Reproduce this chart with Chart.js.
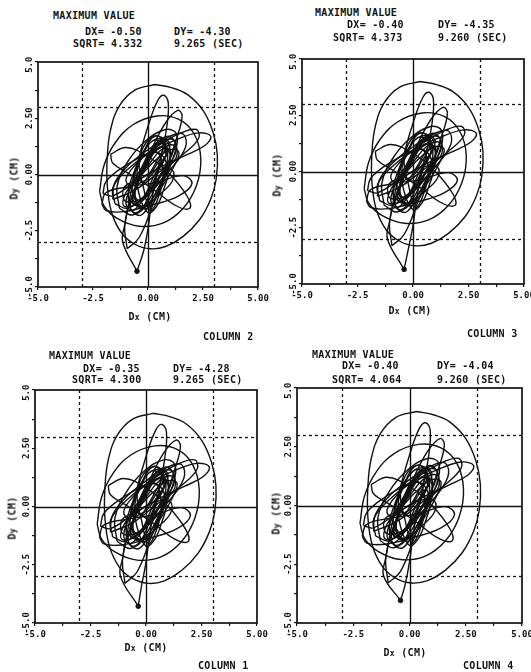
<!DOCTYPE html>
<html>
<head>
<meta charset="utf-8">
<script src="https://cdn.jsdelivr.net/npm/chart.js@4/dist/chart.umd.min.js"></script>
<style>
  html, body { margin:0; padding:0; background:#fff; }
  #page { position:relative; width:531px; height:672px; overflow:hidden; background:#fff; }
  canvas { position:absolute; }
  .t { position:absolute; font-family:"DejaVu Sans Mono", monospace; font-weight:bold; font-size:10px;
       line-height:12px; white-space:pre; color:#111; letter-spacing:0.3px; }
  .c { transform:translate(-50%,-50%); }
  .r { transform:translate(-50%,-50%) rotate(-90deg); }
  .sub { font-size:8px; }
</style>
</head>
<body>
<div id="page"></div>
<script>
// ---------------- DATA ----------------
const columnNames = ['COLUMN 2', 'COLUMN 3', 'COLUMN 1', 'COLUMN 4'];
const maxDx   = [-0.50, -0.40, -0.35, -0.40];
const maxDy   = [-4.30, -4.35, -4.28, -4.04];
const maxSqrt = [4.332, 4.373, 4.300, 4.064];
const maxTime = [9.265, 9.260, 9.265, 9.260];

const tickValues  = [-5, -2.5, 0, 2.5, 5];
const xTickLabels = ['-5.0', '-2.5', '0.00', '2.50', '5.00'];
const yTickLabels = ['-5.0', '-2.5', '0.00', '2.50', '5.00'];
const dashedGrid = [-3, 3];
const solidGrid  = [0];

// orbit loops (Dx, Dy in cm)
const outerEgg = [[0.32,4.0],[1.1,3.85],[1.8,3.55],[2.5,2.85],[2.95,1.9],[3.15,0.9],[3.1,-0.2],[2.85,-1.1],[2.35,-2.0],[1.6,-2.75],[0.8,-3.2],[0.1,-3.3],[-0.6,-3.1],[-1.2,-2.6],[-1.65,-1.7],[-1.85,-0.5],[-1.85,0.8],[-1.7,2.0],[-1.3,3.05],[-0.6,3.75],[0.32,4.0]];
const loopB = [[-2.2,-0.75],[-2.0,0.4],[-1.5,1.4],[-0.7,2.2],[0.4,2.6],[1.4,2.45],[2.1,1.8],[2.4,0.7],[2.2,-0.5],[1.6,-1.5],[0.7,-2.15],[-0.4,-2.3],[-1.4,-1.95],[-2.0,-1.4],[-2.2,-0.75]];
const tallLoopA = [[-1.15,-3.0],[-1.05,-2.2],[-0.8,-0.9],[-0.4,0.8],[0.05,2.3],[0.45,3.3],[0.72,3.52],[0.92,3.2],[0.85,2.1],[0.55,0.6],[0.2,-1.0],[0.0,-2.4],[-0.2,-3.4]];
const tallLoopB = [[-0.95,-3.3],[-1.05,-2.2],[-0.6,-0.6],[0.1,1.0],[0.8,2.3],[1.35,2.85],[1.55,2.6],[1.3,1.6],[0.8,0.2],[0.2,-1.4],[-0.4,-2.8],[-0.95,-3.3]];
const longEllipseA = [[-2.05,-0.85],[-1.9,-0.3],[-1.1,0.35],[0.1,1.0],[1.3,1.55],[2.3,1.85],[2.85,1.7],[2.6,1.3],[1.7,0.85],[0.5,0.3],[-0.6,-0.35],[-1.6,-0.95],[-2.05,-0.85]];
const longEllipseB = [[-1.6,-1.1],[-1.5,-0.4],[-0.6,0.5],[0.5,1.3],[1.5,1.85],[2.2,2.0],[2.3,1.6],[1.6,0.9],[0.5,0.1],[-0.6,-0.7],[-1.6,-1.1]];
const lowLoop = [[-2.1,-1.3],[-1.9,-0.8],[-0.9,-0.55],[0.4,-0.35],[1.6,-0.05],[2.0,-0.4],[1.4,-0.95],[0.2,-1.35],[-1.1,-1.65],[-1.9,-1.6],[-2.1,-1.3]];
const crossLoop = [[-1.7,0.9],[-1.0,1.2],[0.0,0.8],[1.0,0.0],[1.8,-1.0],[1.9,-1.5],[1.3,-1.4],[0.3,-0.7],[-0.8,0.0],[-1.6,0.5],[-1.7,0.9]];
const midLoop = [[-1.3,-1.5],[-1.4,-0.5],[-0.9,0.6],[-0.1,1.5],[0.8,2.0],[1.3,1.8],[1.2,0.9],[0.7,-0.3],[0.0,-1.3],[-0.7,-1.8],[-1.3,-1.5]];
const diagLoop = [[-1.5,-1.3],[-1.6,-0.6],[-1.0,0.3],[0.0,1.1],[1.0,1.7],[1.6,1.8],[1.7,1.2],[1.0,0.2],[0.0,-0.8],[-0.9,-1.5],[-1.5,-1.3]];
const coreLoops = [[0.1,0.0],[0.8,1.2],[0.6,1.6],[0.0,1.3],[-0.6,0.2],[-0.9,-1.0],[-0.6,-1.7],[0.0,-1.2],[0.5,-0.2],[1.1,0.9],[1.2,1.5],[0.7,1.5],[0.1,0.8],[-0.5,-0.4],[-0.8,-1.5],[-0.3,-1.8],[0.3,-0.9],[0.9,0.3],[1.3,1.2],[0.9,1.7],[0.2,1.1],[-0.4,0.0],[-1.0,-0.8],[-1.1,-1.4],[-0.5,-1.3],[0.4,-0.5],[1.0,0.5],[0.8,1.3],[0.2,1.5],[-0.3,0.7],[-0.7,-0.3],[-0.6,-1.1],[0.0,-1.5],[0.6,-0.6],[1.2,0.4],[1.4,1.0],[1.0,1.1],[0.3,0.6],[-0.5,-0.2],[-1.1,-0.6],[-1.0,-1.2],[-0.2,-1.0],[0.5,-0.1],[0.9,0.8],[0.5,1.7],[-0.1,1.4],[-0.4,0.5],[-0.2,-0.6],[0.1,-1.6],[0.4,-1.2],[0.7,0.0],[0.4,1.0],[-0.2,0.4],[-0.6,-0.8],[-0.3,-1.5],[0.3,-0.3],[0.6,0.7],[0.1,0.0]];
const coreInner = [[-0.2,-0.4],[0.4,0.6],[0.7,1.2],[0.3,1.0],[-0.3,0.0],[-0.6,-0.9],[-0.3,-1.2],[0.2,-0.4],[0.6,0.5],[0.9,1.0],[0.5,1.2],[0.0,0.5],[-0.5,-0.5],[-0.7,-1.3],[-0.2,-1.0],[0.3,0.0],[0.8,0.8],[0.6,1.4],[0.1,0.9],[-0.4,-0.1],[-0.2,-0.4]];
const coreDense = [[0.0,-0.2],[0.5,0.4],[1.0,1.3],[0.7,1.6],[0.2,1.2],[-0.3,0.3],[-0.8,-0.6],[-1.0,-1.3],[-0.7,-1.6],[-0.2,-1.1],[0.3,-0.4],[0.8,0.2],[1.3,0.8],[1.2,1.3],[0.6,1.1],[0.0,0.4],[-0.6,-0.3],[-0.9,-0.9],[-0.5,-1.4],[0.1,-1.3],[0.6,-0.5],[1.0,0.6],[0.9,1.4],[0.3,1.7],[-0.2,1.0],[-0.5,0.1],[-0.4,-0.9],[0.0,-1.7],[0.4,-1.4],[0.7,-0.7],[0.9,0.1],[0.6,0.9],[0.0,0.9],[-0.6,0.4],[-1.0,-0.2],[-0.8,-0.5],[-0.2,-0.1],[0.4,0.2],[1.1,0.2],[1.1,-0.3],[0.5,-0.9],[-0.2,-1.4],[-0.7,-1.1],[-0.5,-0.5],[0.0,-0.2]];

// ---------------- LAYOUT ----------------
const layout = [
  {plot:[38,62,258,287],  head:[53,16],  dx:[85,32],  dy:[174,32],  sq:[73,44],  tm:[174,44],  dxT:[150,317], col:[203,337], dyT:[15,178]},
  {plot:[302,59,524,284], head:[315,13], dx:[347,25], dy:[438,25],  sq:[333,38], tm:[438,38],  dxT:[410,311], col:[467,334], dyT:[278,175]},
  {plot:[35,390,257,623], head:[49,356], dx:[83,369], dy:[173,369], sq:[72,380], tm:[173,380], dxT:[146,648], col:[198,666], dyT:[13,518]},
  {plot:[297,388,522,623],head:[312,355],dx:[342,366],dy:[437,366], sq:[332,380],tm:[437,380], dxT:[405,653], col:[463,666], dyT:[277,513]}
];

const ink = '#111';
const page = document.getElementById('page');
function addText(html, x, cy, cls) {
  const d = document.createElement('div');
  d.className = 't' + (cls ? ' ' + cls : '');
  d.innerHTML = html;
  d.style.left = x + 'px';
  d.style.top = (cls ? cy : cy - 6) + 'px';
  page.appendChild(d);
}

const decor = {
  id: 'decor',
  beforeDatasetsDraw(chart) {
    const {ctx, chartArea: a, scales: {x, y}} = chart;
    ctx.save();
    ctx.strokeStyle = ink;
    ctx.lineWidth = 1.3;
    ctx.setLineDash([3, 3]);
    dashedGrid.forEach(v => {
      const px = Math.round(x.getPixelForValue(v)) + 0.5;
      const py = Math.round(y.getPixelForValue(v)) + 0.5;
      ctx.beginPath(); ctx.moveTo(px, a.top); ctx.lineTo(px, a.bottom); ctx.stroke();
      ctx.beginPath(); ctx.moveTo(a.left, py); ctx.lineTo(a.right, py); ctx.stroke();
    });
    ctx.setLineDash([]);
    ctx.lineWidth = 1.4;
    solidGrid.forEach(v => {
      const px = Math.round(x.getPixelForValue(v)) + 0.5;
      const py = Math.round(y.getPixelForValue(v)) + 0.5;
      ctx.beginPath(); ctx.moveTo(px, a.top); ctx.lineTo(px, a.bottom); ctx.stroke();
      ctx.beginPath(); ctx.moveTo(a.left, py); ctx.lineTo(a.right, py); ctx.stroke();
    });
    ctx.restore();
  },
  afterDatasetsDraw(chart) {
    const {ctx, chartArea: a, scales: {y}} = chart;
    ctx.save();
    ctx.strokeStyle = ink;
    ctx.lineWidth = 1.7;
    ctx.strokeRect(a.left, a.top, a.right - a.left, a.bottom - a.top);
    ctx.fillStyle = ink;
    ctx.font = 'bold 9px "DejaVu Sans Mono", monospace';
    ctx.textAlign = 'center';
    ctx.textBaseline = 'middle';
    tickValues.forEach((v, k) => {
      const py = y.getPixelForValue(v);
      ctx.save();
      ctx.translate(a.left - 8, py);
      ctx.rotate(-Math.PI / 2);
      ctx.fillText(yTickLabels[k], 0, 0);
      ctx.restore();
    });
    ctx.restore();
  }
};

const padL = 30, padT = 6, padR = 16, padB = 24;
const loops = [outerEgg, loopB, tallLoopB, longEllipseA, longEllipseB, lowLoop, crossLoop, midLoop, diagLoop, coreLoops, coreInner, coreDense];

layout.forEach((L, i) => {
  const [l, t, r, b] = L.plot;
  const cv = document.createElement('canvas');
  const w = (r - l) + padL + padR, h = (b - t) + padT + padB;
  cv.width = w; cv.height = h;
  cv.style.left = (l - padL) + 'px';
  cv.style.top = (t - padT) + 'px';
  cv.style.width = w + 'px'; cv.style.height = h + 'px';
  page.appendChild(cv);

  const maxPt = [maxDx[i], maxDy[i]];
  const tallA = [maxPt, ...tallLoopA, maxPt];
  const lineSets = [...loops, tallA].map(arr => ({
    data: arr.map(([x, y]) => ({x, y})),
    showLine: true, borderColor: ink, borderWidth: 1.4,
    pointRadius: 0, tension: 0.4, fill: false
  }));
  lineSets.push({
    data: [{x: maxDx[i], y: maxDy[i]}], showLine: false,
    pointRadius: 2.3, backgroundColor: ink, borderColor: ink
  });

  new Chart(cv, {
    type: 'scatter',
    data: { datasets: lineSets },
    options: {
      responsive: false, animation: false, devicePixelRatio: 1,
      layout: { padding: { left: 0, top: padT, right: padR, bottom: 0 } },
      plugins: { legend: { display: false }, tooltip: { enabled: false } },
      scales: {
        x: {
          type: 'linear', min: -5, max: 5,
          afterFit: s => { s.height = padB; },
          border: { display: false },
          grid: { drawOnChartArea: false, drawTicks: true, tickLength: 3, color: ink, lineWidth: 1.2 },
          ticks: {
            stepSize: 1.25, autoSkip: false, maxRotation: 0, minRotation: 0, padding: 3,
            color: ink, font: { family: 'DejaVu Sans Mono', weight: 'bold', size: 9 },
            callback: v => { const k = tickValues.indexOf(v); return k >= 0 ? xTickLabels[k] : ''; }
          }
        },
        y: {
          type: 'linear', min: -5, max: 5,
          afterFit: s => { s.width = padL; },
          border: { display: false },
          grid: { drawOnChartArea: false, drawTicks: true, tickLength: 3, color: ink, lineWidth: 1.2 },
          ticks: { stepSize: 1.25, display: false }
        }
      }
    },
    plugins: [decor]
  });

  addText('MAXIMUM VALUE', L.head[0], L.head[1]);
  addText('DX= ' + maxDx[i].toFixed(2), L.dx[0], L.dx[1]);
  addText('DY= ' + maxDy[i].toFixed(2), L.dy[0], L.dy[1]);
  addText('SQRT= ' + maxSqrt[i].toFixed(3), L.sq[0], L.sq[1]);
  addText(maxTime[i].toFixed(3) + ' (SEC)', L.tm[0], L.tm[1]);
  addText('D<span class="sub">x</span> (CM)', L.dxT[0], L.dxT[1], 'c');
  addText(columnNames[i], L.col[0], L.col[1]);
  addText('D<span class="sub">y</span> (CM)', L.dyT[0], L.dyT[1], 'r');
});
</script>
</body>
</html>
